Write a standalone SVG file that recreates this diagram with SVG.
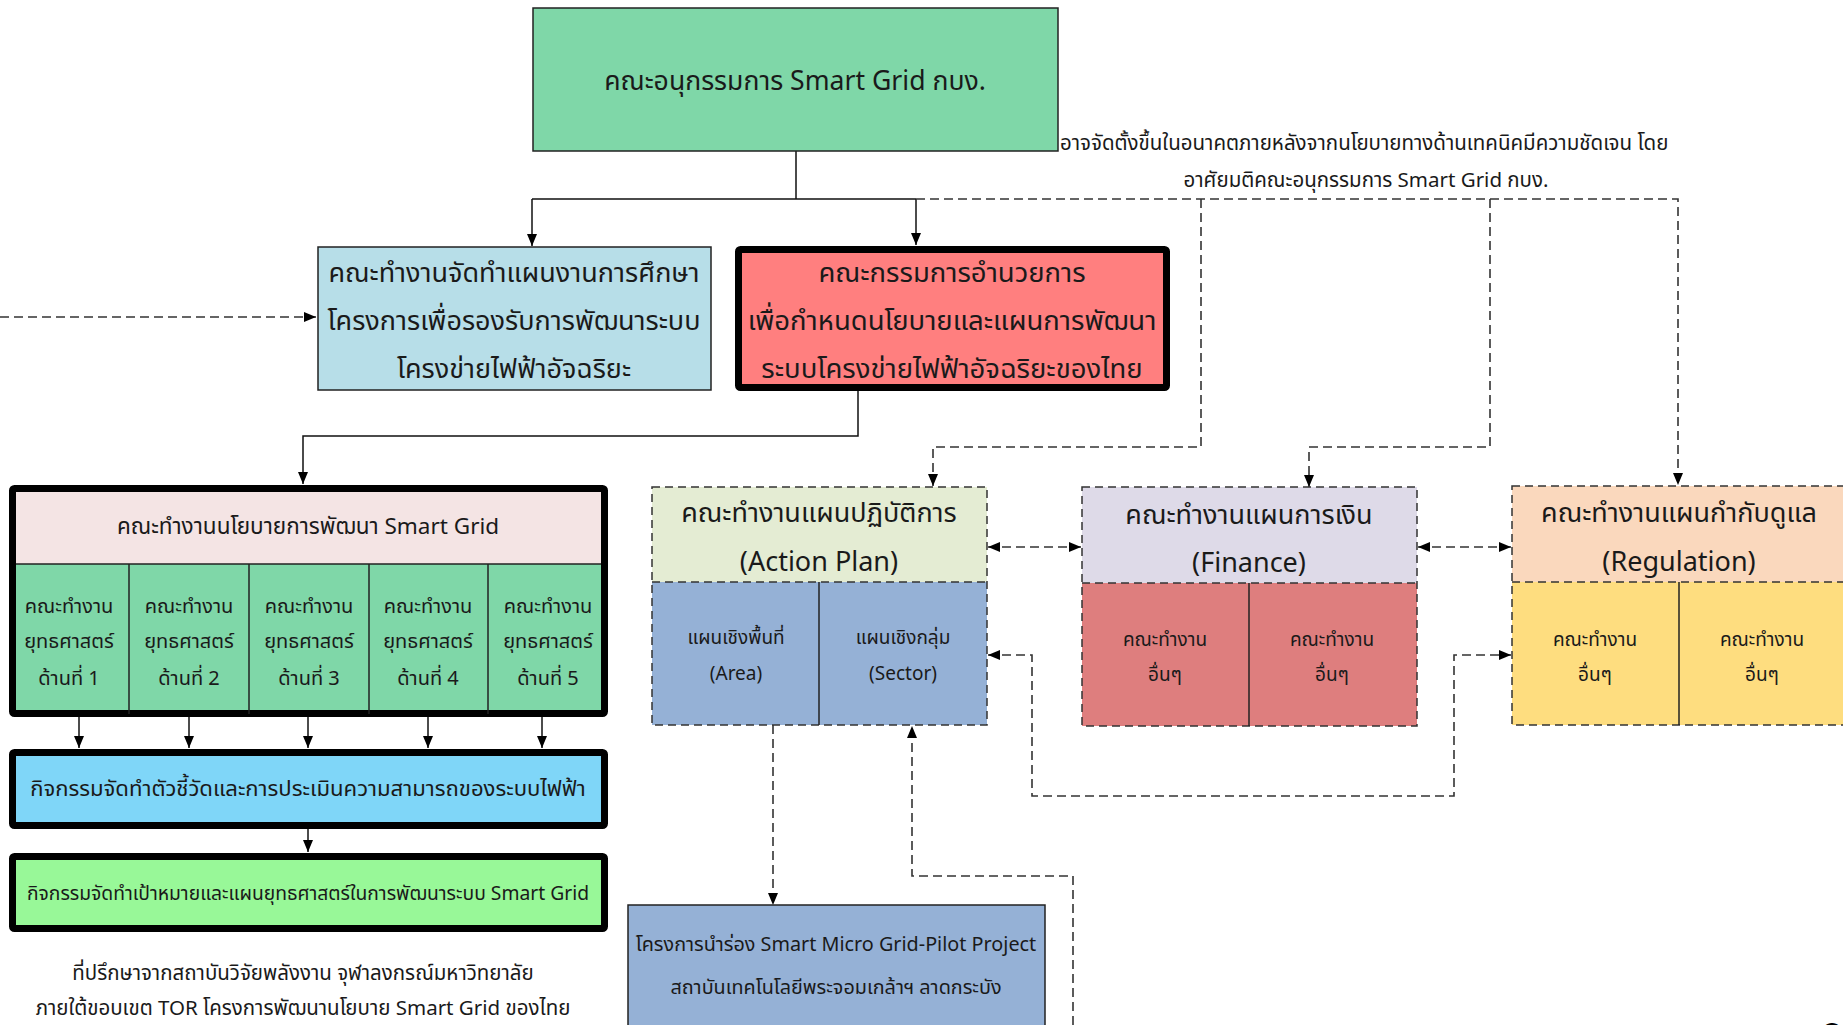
<svg xmlns="http://www.w3.org/2000/svg" width="1843" height="1025" viewBox="0 0 1843 1025">
  <style>
    text { font-family: "Leelawadee UI", "Noto Sans Thai", "Noto Sans Thai UI", "Noto Sans", "DejaVu Sans", sans-serif; fill: #1a1a1a; text-anchor: middle; dominant-baseline: central; }
    .thin { stroke: #222; stroke-width: 1.5; }
    .thick { stroke: #000; stroke-width: 7; }
    .dash { stroke: #333; stroke-width: 1.5; stroke-dasharray: 8 5; }
    .cdash { fill: none; stroke: #333; stroke-width: 1.6; stroke-dasharray: 9 5; }
    .csolid { fill: none; stroke: #111; stroke-width: 1.5; }
    .divider { stroke: #222; stroke-width: 1.5; }
  </style>
  <defs>
    <marker id="arrow" viewBox="0 0 12 10" refX="12" refY="5" markerWidth="12" markerHeight="10" markerUnits="userSpaceOnUse" orient="auto-start-reverse">
      <path d="M0,0 L12,5 L0,10 Z" fill="#000"/>
    </marker>
  </defs>
  <rect width="1843" height="1025" fill="#fff"/>

  <!-- connectors -->
  <g id="connectors">
    <path class="csolid" d="M796,151 V199 M532,199 H916"/>
    <path class="csolid" d="M532,199 V246" marker-end="url(#arrow)"/>
    <path class="csolid" d="M916,199 V245" marker-end="url(#arrow)"/>
    <path class="csolid" d="M858,391 V436 H303 V484" marker-end="url(#arrow)"/>
    <path class="csolid" d="M79,717 V748" marker-end="url(#arrow)"/>
    <path class="csolid" d="M189,717 V748" marker-end="url(#arrow)"/>
    <path class="csolid" d="M308,717 V748" marker-end="url(#arrow)"/>
    <path class="csolid" d="M428,717 V748" marker-end="url(#arrow)"/>
    <path class="csolid" d="M542,717 V748" marker-end="url(#arrow)"/>
    <path class="csolid" d="M308,829 V852" marker-end="url(#arrow)"/>

    <path class="cdash" d="M0,317 H316" marker-end="url(#arrow)"/>
    <path class="cdash" d="M916,199 H1678 V485" marker-end="url(#arrow)"/>
    <path class="cdash" d="M1201,199 V447 H933 V486" marker-end="url(#arrow)"/>
    <path class="cdash" d="M1490,199 V447 H1309 V487" marker-end="url(#arrow)"/>
    <path class="cdash" d="M988,547 H1081" marker-start="url(#arrow)" marker-end="url(#arrow)"/>
    <path class="cdash" d="M1418,547 H1511" marker-start="url(#arrow)" marker-end="url(#arrow)"/>
    <path class="cdash" d="M988,655 H1032 V796 H1454 V655 H1511" marker-start="url(#arrow)" marker-end="url(#arrow)"/>
    <path class="cdash" d="M773,725 V905" marker-end="url(#arrow)"/>
    <path class="cdash" d="M1073,1025 V876 H912 V726" marker-end="url(#arrow)"/>
  </g>

  <!-- top sub-committee -->
  <g id="subcommittee">
    <rect x="533" y="8" width="525" height="143" fill="#7FD7A8" class="thin"/>
    <text x="795" y="82" font-size="26.6">คณะอนุกรรมการ Smart Grid กบง.</text>
  </g>

  <g id="note">
    <text x="1060" y="143" font-size="20.5" style="text-anchor:start">อาจจัดตั้งขึ้นในอนาคตภายหลังจากนโยบายทางด้านเทคนิคมีความชัดเจน โดย</text>
    <text x="1366" y="180" font-size="20.5">อาศัยมติคณะอนุกรรมการ Smart Grid กบง.</text>
  </g>

  <g id="study-plan">
    <rect x="318" y="247" width="393" height="143" fill="#B7DEE8" class="thin"/>
    <text x="514" y="273" font-size="27">คณะทำงานจัดทำแผนงานการศึกษา</text>
    <text x="514" y="321" font-size="27">โครงการเพื่อรองรับการพัฒนาระบบ</text>
    <text x="514" y="369" font-size="27">โครงข่ายไฟฟ้าอัจฉริยะ</text>
  </g>

  <g id="steering">
    <rect x="738.5" y="249.5" width="428" height="138" rx="2" fill="#FF7F7F" class="thick"/>
    <text x="952" y="273" font-size="27.5">คณะกรรมการอำนวยการ</text>
    <text x="952" y="321" font-size="27.5">เพื่อกำหนดนโยบายและแผนการพัฒนา</text>
    <text x="952" y="369" font-size="27.5">ระบบโครงข่ายไฟฟ้าอัจฉริยะของไทย</text>
  </g>

  <g id="policy-group">
    <rect x="12.5" y="488.5" width="592" height="225" rx="2" fill="#7FD7A8" class="thick"/>
    <rect x="16" y="492" width="585" height="72" fill="#F4E4E4"/>
    <path class="divider" d="M16,564 H601 M129,564 V714 M249,564 V714 M369,564 V714 M488,564 V714"/>
    <text x="308" y="527" font-size="22.5">คณะทำงานนโยบายการพัฒนา Smart Grid</text>
    <g font-size="20">
      <text x="69" y="607">คณะทำงาน</text><text x="69" y="642">ยุทธศาสตร์</text><text x="69" y="679">ด้านที่ 1</text>
      <text x="189" y="607">คณะทำงาน</text><text x="189" y="642">ยุทธศาสตร์</text><text x="189" y="679">ด้านที่ 2</text>
      <text x="309" y="607">คณะทำงาน</text><text x="309" y="642">ยุทธศาสตร์</text><text x="309" y="679">ด้านที่ 3</text>
      <text x="428" y="607">คณะทำงาน</text><text x="428" y="642">ยุทธศาสตร์</text><text x="428" y="679">ด้านที่ 4</text>
      <text x="548" y="607">คณะทำงาน</text><text x="548" y="642">ยุทธศาสตร์</text><text x="548" y="679">ด้านที่ 5</text>
    </g>
  </g>

  <g id="indicators">
    <rect x="12.5" y="752.5" width="592" height="73" rx="2" fill="#7FD6F8" class="thick"/>
    <text x="308" y="789" font-size="22.1">กิจกรรมจัดทำตัวชี้วัดและการประเมินความสามารถของระบบไฟฟ้า</text>
  </g>

  <g id="targets">
    <rect x="12.5" y="856.5" width="592" height="72" rx="2" fill="#98F898" class="thick"/>
    <text x="308" y="894" font-size="19.3">กิจกรรมจัดทำเป้าหมายและแผนยุทธศาสตร์ในการพัฒนาระบบ Smart Grid</text>
  </g>

  <g id="advisor">
    <text x="303" y="973" font-size="20.5">ที่ปรึกษาจากสถาบันวิจัยพลังงาน จุฬาลงกรณ์มหาวิทยาลัย</text>
    <text x="303" y="1008" font-size="20.5">ภายใต้ขอบเขต TOR โครงการพัฒนานโยบาย Smart Grid ของไทย</text>
  </g>

  <g id="action-plan">
    <rect x="652" y="487" width="335" height="95" fill="#E4ECD3"/>
    <rect x="652" y="582" width="335" height="143" fill="#95B1D6"/>
    <rect x="652" y="487" width="335" height="238" fill="none" class="dash"/>
    <path class="dash" d="M652,582 H987"/>
    <path class="divider" d="M819,582 V725"/>
    <text x="819" y="513" font-size="27">คณะทำงานแผนปฏิบัติการ</text>
    <text x="819" y="562" font-size="27">(Action Plan)</text>
    <text x="736" y="638" font-size="19">แผนเชิงพื้นที่</text>
    <text x="736" y="674" font-size="19">(Area)</text>
    <text x="903" y="638" font-size="19">แผนเชิงกลุ่ม</text>
    <text x="903" y="674" font-size="19">(Sector)</text>
  </g>

  <g id="finance">
    <rect x="1082" y="487" width="335" height="96" fill="#DEDAE8"/>
    <rect x="1082" y="583" width="335" height="143" fill="#DE7E7E"/>
    <rect x="1082" y="487" width="335" height="239" fill="none" class="dash"/>
    <path class="dash" d="M1082,583 H1417"/>
    <path class="divider" d="M1249,583 V726"/>
    <text x="1249" y="515" font-size="27">คณะทำงานแผนการเงิน</text>
    <text x="1249" y="563" font-size="27">(Finance)</text>
    <text x="1165" y="640" font-size="19">คณะทำงาน</text>
    <text x="1165" y="675" font-size="19">อื่นๆ</text>
    <text x="1332" y="640" font-size="19">คณะทำงาน</text>
    <text x="1332" y="675" font-size="19">อื่นๆ</text>
  </g>

  <g id="regulation">
    <rect x="1512" y="486" width="335" height="96" fill="#FAD8BD"/>
    <rect x="1512" y="582" width="335" height="143" fill="#FEDD7F"/>
    <rect x="1512" y="486" width="335" height="239" fill="none" class="dash"/>
    <path class="dash" d="M1512,582 H1847"/>
    <path class="divider" d="M1679,582 V725"/>
    <text x="1679" y="513" font-size="27">คณะทำงานแผนกำกับดูแล</text>
    <text x="1679" y="562" font-size="27">(Regulation)</text>
    <text x="1595" y="640" font-size="19">คณะทำงาน</text>
    <text x="1595" y="675" font-size="19">อื่นๆ</text>
    <text x="1762" y="640" font-size="19">คณะทำงาน</text>
    <text x="1762" y="675" font-size="19">อื่นๆ</text>
  </g>

  <g id="pilot">
    <rect x="628" y="905" width="417" height="130" fill="#95B1D6" class="thin"/>
    <text x="836" y="945" font-size="19.8">โครงการนำร่อง Smart Micro Grid-Pilot Project</text>
    <text x="836" y="988" font-size="19.8">สถาบันเทคโนโลยีพระจอมเกล้าฯ ลาดกระบัง</text>
  </g>

  <!-- page number, partly below the page edge -->
  <text x="1832" y="1036" font-size="34" font-weight="bold" style="fill:#000">8</text>
</svg>
